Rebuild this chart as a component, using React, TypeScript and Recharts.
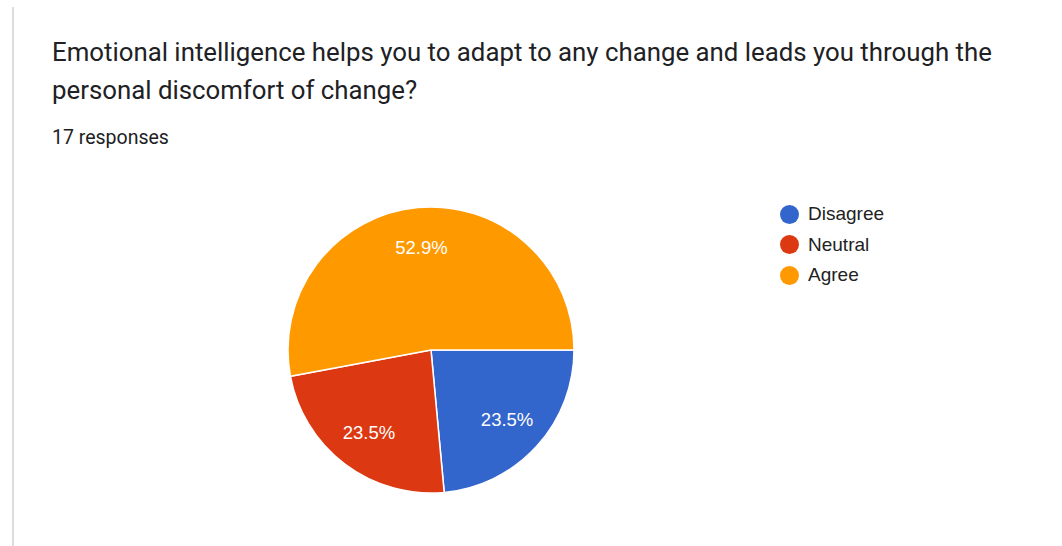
import { Pie, PieChart, Cell } from "recharts";

// Survey answers (17 responses)
const answers = ["Disagree", "Neutral", "Agree"];
const counts = [4, 4, 9];
const colors = ["#3366cc", "#dc3912", "#ff9900"];

const total = counts.reduce((a, b) => a + b, 0);
const data = answers.map((name, i) => ({ name, value: counts[i] }));

const RADIAN = Math.PI / 180;

const renderLabel = (props: any) => {
  const { cx, cy, midAngle, outerRadius, value } = props;
  const r = outerRadius * 0.72;
  const x = cx + r * Math.cos(-midAngle * RADIAN);
  const y = cy + r * Math.sin(-midAngle * RADIAN);
  return (
    <text
      x={x}
      y={y}
      fill="#ffffff"
      textAnchor="middle"
      dominantBaseline="central"
      fontSize={18.5}
      fontFamily="'Liberation Sans', Arial, sans-serif"
    >
      {((value / total) * 100).toFixed(1)}%
    </text>
  );
};

function ChartLegend() {
  return (
    <div style={{ position: "absolute", left: 780, top: 199 }}>
      {answers.map((name, i) => (
        <div
          key={name}
          style={{ display: "flex", alignItems: "center", height: 30.5 }}
        >
          <svg width={19} height={19} style={{ marginRight: 9 }}>
            <circle cx={9.5} cy={9.5} r={9.5} fill={colors[i]} />
          </svg>
          <span
            style={{
              fontFamily: "'Liberation Sans', Arial, sans-serif",
              fontSize: 19,
              color: "#222222",
            }}
          >
            {name}
          </span>
        </div>
      ))}
    </div>
  );
}

export default function App() {
  return (
    <div
      style={{
        position: "fixed",
        left: 0,
        top: 0,
        width: 1062,
        height: 546,
        background: "#ffffff",
        overflow: "hidden",
      }}
    >
      <div
        style={{
          position: "absolute",
          left: 12,
          top: 7,
          width: 0,
          height: 539,
          borderLeft: "2px solid #dadce0",
        }}
      />
      <div
        style={{
          position: "absolute",
          left: 52,
          top: 33,
          width: 1000,
          fontFamily: "Roboto, sans-serif",
          fontSize: 25.8,
          lineHeight: "38px",
          color: "#202124",
        }}
      >
        Emotional intelligence helps you to adapt to any change and leads you
        through the
        <br />
        personal discomfort of change?
      </div>
      <div
        style={{
          position: "absolute",
          left: 52,
          top: 128,
          fontFamily: "Roboto, sans-serif",
          fontSize: 19.5,
          lineHeight: "19.5px",
          color: "#202124",
        }}
      >
        17 responses
      </div>
      <div style={{ position: "absolute", left: 0, top: 0 }}>
        <PieChart
          width={1062}
          height={546}
          margin={{ top: 0, right: 0, bottom: 0, left: 0 }}
        >
          <Pie
            data={data}
            dataKey="value"
            nameKey="name"
            cx={431}
            cy={350}
            outerRadius={143}
            startAngle={0}
            endAngle={-360}
            stroke="#ffffff"
            strokeWidth={1.5}
            label={renderLabel}
            labelLine={false}
            isAnimationActive={false}
          >
            {data.map((d, i) => (
              <Cell key={d.name} fill={colors[i]} />
            ))}
          </Pie>
        </PieChart>
      </div>
      <ChartLegend />
    </div>
  );
}
